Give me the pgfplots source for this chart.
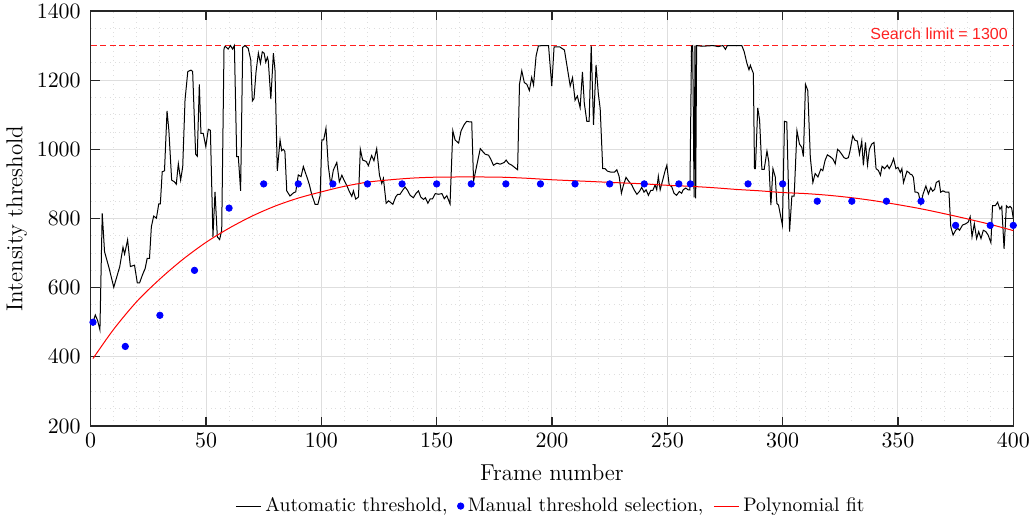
\documentclass[border=0pt]{standalone}
\usepackage{pgfplots}
\pgfplotsset{compat=1.18}
\usepackage{fontspec}
\newfontfamily\arialfont{Liberation Sans}
\definecolor{axgray}{RGB}{38,38,38}
\definecolor{gridgray}{RGB}{222,222,222}
\definecolor{limred}{RGB}{255,30,30}
\definecolor{labred}{RGB}{254,33,33}
\definecolor{fitred}{RGB}{255,0,0}
\definecolor{dotblue}{RGB}{0,0,255}
\begin{document}
\begin{tikzpicture}
\useasboundingbox (-45.35pt,-48pt) rectangle (469.65pt,213pt);
\begin{axis}[
 name=ax, at={(0,0)}, anchor=south west,
 width=461.3pt, height=207.5pt, scale only axis,
 xmin=0, xmax=400, ymin=200, ymax=1400,
 xtick={0,50,...,400}, ytick={200,400,...,1400},
 /pgf/number format/1000 sep={},
 minor x tick num=4, minor y tick num=3,
 grid=both,
 major grid style={gridgray, line width=0.5pt},
 minor grid style={gridgray, dotted, line width=0.5pt},
 axis line style={axgray, line width=0.6pt},
 tick style={axgray, line width=0.6pt},
 major tick length=4.5pt, minor tick length=0pt,
 tick align=inside,
 ticklabel style={font=\fontsize{10.5}{12}\selectfont},
 yticklabel style={xshift=-1.5pt},
 label style={font=\fontsize{11.5}{13}\selectfont},
 xlabel={Frame number}, ylabel={Intensity threshold},
 xlabel shift=2pt, ylabel shift=-2pt,
 legend style={at={(0.5,-0.193)}, anchor=center, draw=none, fill=none, legend columns=-1,
   font=\fontsize{9.8}{11}\selectfont,
   /tikz/every even column/.append style={column sep=3pt}},
 legend image code/.code={\draw[mark repeat=2,mark phase=2,#1] plot coordinates {(0cm,0cm) (0.22cm,0cm) (0.44cm,0cm)};},
]
\addplot[draw=limred, dash pattern=on 3pt off 1.8pt, line width=0.6pt, forget plot] coordinates {(0,1300) (400,1300)};

\addplot[black, line width=0.5pt] coordinates {
(1,500) (2,521) (3,505) (4,478) (5,815) (6,704) (8,656) (10,601) (12.6,661) (14,717) (14.7,697)
(16,738) (17.2,661) (19,665) (20.2,614) (21.2,614) (22.5,638) (23.6,655) (24.5,685) (25.5,685)
(26.3,776) (27.3,807) (28.5,801) (29.5,842) (30.2,842) (31,935) (32,938) (33.1,1111) (33.9,1054)
(35.1,911) (36.3,906) (37.1,899) (38,958) (39,911) (39.9,950) (40.9,1143) (42.1,1225) (43.5,1229)
(44.2,1225) (45.5,986) (46.2,980) (47.1,1188) (47.8,1046) (48.8,1046) (49.9,1008) (51,1058)
(51.9,1055) (53,747) (53.9,877) (54.9,747) (55.9,739) (56.8,766) (57.8,1292) (58.3,1298)
(59.6,1290) (60.6,1300) (61.5,1290) (62.3,1300) (63.3,979) (64,979) (65,880) (65.9,1295)
(66.9,1300) (68.3,1292) (69.4,1258) (70.1,1140) (70.8,1147) (71.7,1225) (72.7,1278) (73.6,1249)
(74.4,1282) (75.2,1278) (75.9,1252) (76.6,1266) (77,1256) (78.1,1145) (79.2,1278) (79.9,1230)
(80.9,938) (82.1,1027) (82.8,996) (83.5,1000) (84.2,994) (85,880) (86.4,865) (87.9,874) (88.9,877)
(90,926) (91.2,921) (92.2,950) (92.9,936) (93.9,917) (94.8,898) (95.8,870) (97.3,841) (98.5,841)
(99.5,867) (100.2,1027) (101,1027) (102,1061) (103,953) (104.1,896) (105.2,940) (106.7,962)
(107.8,906) (108.9,925) (109.9,910) (111,896) (112.2,877) (113.2,864) (113.9,880) (114.9,856)
(116.1,862) (116.9,1000) (117.9,969) (119.4,965) (120.4,953) (121.8,982) (122.8,967) (124,1002)
(125.2,925) (126.2,901) (126.9,916) (128.1,844) (129.1,851) (130.1,846) (131,841) (132.2,862)
(133.1,870) (134.1,870) (135.3,882) (136.3,891) (137.3,882) (138.5,867) (139.9,860) (141.1,873)
(142.1,880) (143.1,862) (144.3,855) (145.1,860) (146.2,844) (147.2,857) (148.2,857) (149.4,872)
(150.8,870) (152.3,872) (153.3,857) (154.4,866) (155.8,842) (157,1054) (158,1027) (159.5,1018)
(160.6,1054) (161.9,1071) (163,1081) (164.5,1079) (165.2,1079) (166,908) (167.4,954) (168.9,1002)
(171,986) (172.5,983) (173.5,971) (174.6,954) (176.1,960) (177.5,957) (179.3,962) (180.1,969)
(181.2,959) (182.6,954) (184.1,946) (185.1,941) (185.9,1188) (186.9,1227) (188,1193) (189.1,1188)
(190.2,1170) (191.2,1208) (192,1186) (193.1,1270) (194.1,1299) (196,1300) (198.5,1300)
(199.9,1183) (200.9,1296) (203.4,1296) (205.4,1287) (207.9,1183) (208.9,1207) (210,1142)
(211,1154) (212.2,1120) (213.2,1224) (214,1134) (215.1,1081) (216.1,1081) (217,1300) (218,1071)
(219.1,1244) (220.1,1160) (220.9,1117) (222,944) (223,944) (224,937) (225.5,934) (227.1,934)
(228.1,941) (229.1,922) (230.1,873) (231,897) (232.1,919) (233.1,909) (234.6,897) (235.6,883)
(236.8,870) (237.9,878) (238.9,890) (239.9,876) (240.8,883) (241.8,867) (242.8,881) (243.7,881)
(244.7,897) (245.4,883) (246.1,922) (246.9,883) (248,911) (249,937) (249.8,954) (250.8,897)
(251.9,892) (252.9,873) (254,867) (255.2,878) (256.2,873) (256.9,883) (258,888) (259,883)
(259.8,883) (260.5,1298) (261,1300) (261.6,861) (262,1300) (262.3,858) (262.7,1300) (265,1298)
(270,1300) (272,1297) (274.1,1300) (275.2,1289) (276,1300) (282.3,1300) (283.3,1283) (284.5,1249)
(285.4,1230) (286,1243) (286.8,1228) (287.3,1220) (287.8,944) (288.2,944) (289.2,1120) (290,1085)
(291,942) (292,942) (293.2,995) (294,964) (294.9,839) (295.8,944) (296.8,920) (297.5,843)
(298.2,839) (298.9,815) (299.9,781) (300.8,1081) (301.8,1079) (303,762) (304,865) (305,865)
(306.2,1054) (307.3,1015) (308.3,1006) (309,979) (309.9,1188) (310.9,1170) (312,977) (313.1,904)
(314.1,930) (315.3,920) (316,933) (316.6,943) (317.4,938) (318.4,968) (319.4,984) (320.6,979)
(321.8,972) (322.8,958) (323.8,1000) (324.6,995) (325.6,986) (326.6,976) (327.5,973) (328.5,976)
(329.2,995) (330.4,1039) (331.4,1026) (332.4,1024) (333.3,986) (334.3,1024) (335,954) (335.9,1020)
(336.8,955) (337.6,1000) (338.6,1015) (339.6,1020) (340.5,944) (341.5,939) (342.4,925) (343.1,951)
(344.2,944) (345.4,954) (346.2,944) (347.1,955) (348.1,973) (349.1,944) (350,948) (351,933)
(351.7,944) (352.4,904) (353.9,937) (354.9,932) (355.3,928) (356,927) (356.7,919) (357.4,876)
(358.2,876) (358.9,873) (359.9,842) (360.9,871) (362.1,894) (363.2,871) (364.2,889) (365,879)
(365.9,884) (366.6,904) (367.8,909) (368.5,876) (369.5,880) (370.7,876) (372.1,876) (372.9,776)
(373.9,752) (375,766) (376,771) (376.7,766) (378,781) (379.5,785) (380.5,790) (381.3,805)
(382.1,747) (383.1,785) (384.1,742) (385,762) (386,742) (387,766) (388.1,762) (389.1,752)
(390.3,730) (391,837) (392.2,837) (393.2,847) (394.2,827) (395,835) (396,712) (397,837)
(397.9,831) (398.6,835) (399.3,830) (400,800)
};
\addlegendentry{Automatic threshold,}

\addplot[only marks, mark=*, mark size=1.6pt, dotblue] coordinates {
(1,500) (15,430) (30,520) (45,650) (60,830) (75,900) (90,900) (105,900) (120,900) (135,900)
(150,900) (165,900) (180,900) (195,900) (210,900) (225,900) (240,900) (255,900) (260,900)
(285,900) (300,900) (315,850) (330,850) (345,850) (360,850) (375,780) (390,780) (400,780)
};
\addlegendentry{Manual threshold selection,}

\addplot[fitred, line width=0.5pt, smooth] coordinates {
(1,395) (10,480) (20,560) (30,625) (40,682) (50,731) (60,772) (70,807) (80,836) (90,859)
(100,877) (110,893) (120,905) (130,912) (140,917) (150,919.5) (160,920) (170,920) (180,919)
(190,916) (200,912) (210,909) (220,906) (230,903) (240,900) (250,896) (260,893) (270,889)
(280,884) (290,880) (300,875) (310,872) (320,867) (330,860) (340,851) (350,840) (360,828)
(370,814) (380,799) (390,783) (400,765)
};
\addlegendentry{Polynomial fit}

\node[anchor=base east, inner sep=0pt, text=labred, font=\arialfont\fontsize{8}{9.6}\selectfont, yshift=3.2pt] at (axis cs:397.8,1300) {Search limit = 1300};
\end{axis}
\end{tikzpicture}
\end{document}
